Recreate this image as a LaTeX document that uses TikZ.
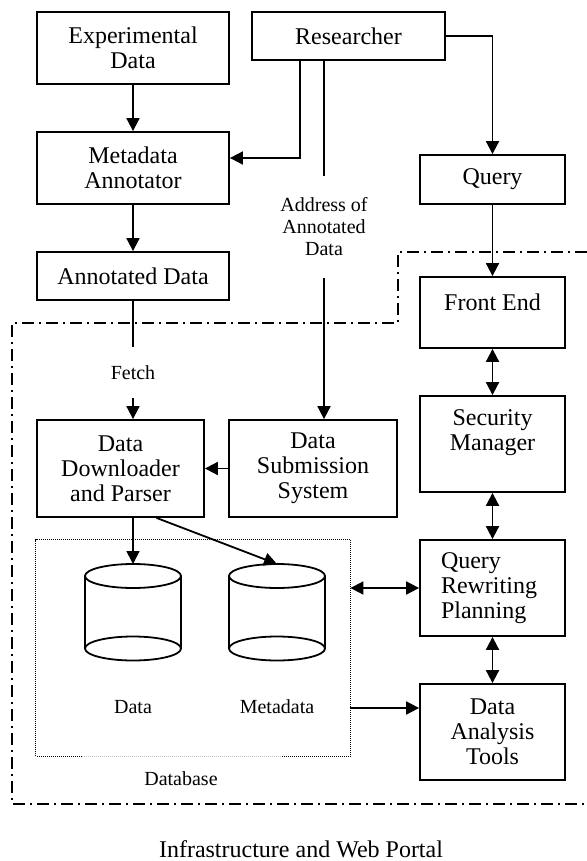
\documentclass[tikz,border=0pt]{standalone}
\usepackage{fontspec}
\setmainfont{Liberation Serif}
\usepackage{tikz}
\usetikzlibrary{arrows.meta}
\newcommand{\boxfont}{\fontsize{12}{12.5}\selectfont}
\newcommand{\notefont}{\fontsize{10}{11}\selectfont}
\tikzstyle{block} = [rectangle, draw=black, line width=0.9pt, align=center, font=\boxfont, inner sep=2pt]
\tikzstyle{note} = [align=center, font=\notefont, inner sep=0pt]
\tikzstyle{wire} = [line width=0.9pt]
\tikzstyle{arrow} = [line width=0.9pt, -{Triangle[length=6.5pt, width=6.5pt]}]
\tikzstyle{twoway} = [line width=0.9pt, {Triangle[length=6.5pt, width=6.5pt]}-{Triangle[length=6.5pt, width=6.5pt]}]
\tikzstyle{border} = [line width=0.9pt, dash pattern=on 6pt off 2.5pt on 1pt off 2.5pt]
\tikzstyle{dbline} = [line width=0.6pt, dash pattern=on 0.5pt off 0.5pt]

\begin{document}
\begin{tikzpicture}[x=0.5pt, y=-0.5pt]
    \useasboundingbox (0,0) rectangle (587,861);

    \node (expdata) [block, minimum width=96pt, minimum height=36pt] at (133,48) {Experimental\\Data};
    \node (researcher) [block, minimum width=96.5pt, minimum height=24pt] at (348.5,36) {Researcher};
    \node (annotator) [block, minimum width=96pt, minimum height=36pt] at (133,168) {Metadata\\Annotator};
    \node (annotated) [block, minimum width=96pt, minimum height=24pt] at (133,276) {Annotated Data};
    \node (query) [block, minimum width=72.5pt, minimum height=24.5pt] at (492.5,179.5) {Query};
    \node (frontend) [block, minimum width=72.5pt, minimum height=35.5pt, text depth=10pt] at (492.5,312.5) {Front End};
    \node (security) [block, minimum width=72.5pt, minimum height=48pt, text depth=14pt] at (492.5,444) {Security\\Manager};
    \node (rewriting) [block, align=left, text width=51.5pt, inner xsep=10.5pt, minimum height=48pt] at (492.5,588) {Query\\Rewriting\\Planning};
    \node (analysis) [block, minimum width=72.5pt, minimum height=48pt] at (492.5,732) {Data\\Analysis\\Tools};
    \node (downloader) [block, minimum width=83.5pt, minimum height=48.5pt] at (120.5,468.5) {Data\\Downloader\\and Parser};
    \node (submission) [block, minimum width=84pt, minimum height=48.5pt] at (313,468.5) {Data\\Submission\\System};

    \node (fetch) [note, minimum height=25.5pt] at (133,372.5) {Fetch};
    \node (address) [note, minimum height=51pt] at (324,227) {Address of\\Annotated\\Data};

    % database with its two stores
    \node (database) [minimum width=157pt, minimum height=108pt] at (193,648) {};
    \draw [dbline] ([xshift=23pt]database.south west) -- (database.south west) -- (database.north west)
        -- (database.north east) -- (database.south east) -- ([xshift=-34.5pt]database.south east);
    \draw [dbline, black!25] ([xshift=23pt]database.south west) -- ([xshift=-34.5pt]database.south east);
    \foreach \cx/\nm in {133/datatop, 277/metatop} {
        \coordinate (\nm) at (\cx,564);
        \draw [line width=0.9pt] (\cx,576) ellipse [x radius=24pt, y radius=6pt];
        \draw [line width=0.9pt] ({\cx-48},576) -- ({\cx-48},648.5) ({\cx+48},576) -- ({\cx+48},648.5);
        \draw [line width=0.9pt] (\cx,648.5) ellipse [x radius=24pt, y radius=6pt];
    }
    \node (datalabel) [note] at (133,707) {Data};
    \node (metalabel) [note] at (277,707) {Metadata};
    \node (dblabel) [note] at (181,779) {Database};

    \draw [border] (587,252) -- (398,252) -- (398,323) -- (12,323) -- (12,804) -- (587,804);
    \node (portal) [font=\boxfont] at (301,849) {Infrastructure and Web Portal};

    \draw [arrow] (expdata) -- (annotator);
    \draw [arrow] ([xshift=24.5pt]researcher.south west) |- ([yshift=5pt]annotator.east);
    \draw [wire] (address |- researcher.south) -- (address.north);
    \draw [arrow] (address.south) -- (address |- submission.north);
    \draw [arrow] (researcher.east) -| (query.north);
    \draw [arrow] (query) -- (frontend);
    \draw [twoway] (frontend) -- (security);
    \draw [twoway] (security) -- (rewriting);
    \draw [twoway] (rewriting) -- (analysis);
    \draw [arrow] (annotator) -- (annotated);
    \draw [wire] (annotated) -- (fetch);
    \draw [arrow] (fetch) -- (fetch |- downloader.north);
    \draw [arrow] (submission) -- (downloader);
    \draw [arrow] (downloader.south -| datatop) -- (datatop);
    \draw [arrow] ([xshift=18pt]downloader.south) -- (metatop);
    \draw [twoway] (rewriting.west -| database.east) -- (rewriting.west);
    \draw [arrow] ([yshift=12pt]analysis.west -| database.east) -- ([yshift=12pt]analysis.west);
\end{tikzpicture}
\end{document}
